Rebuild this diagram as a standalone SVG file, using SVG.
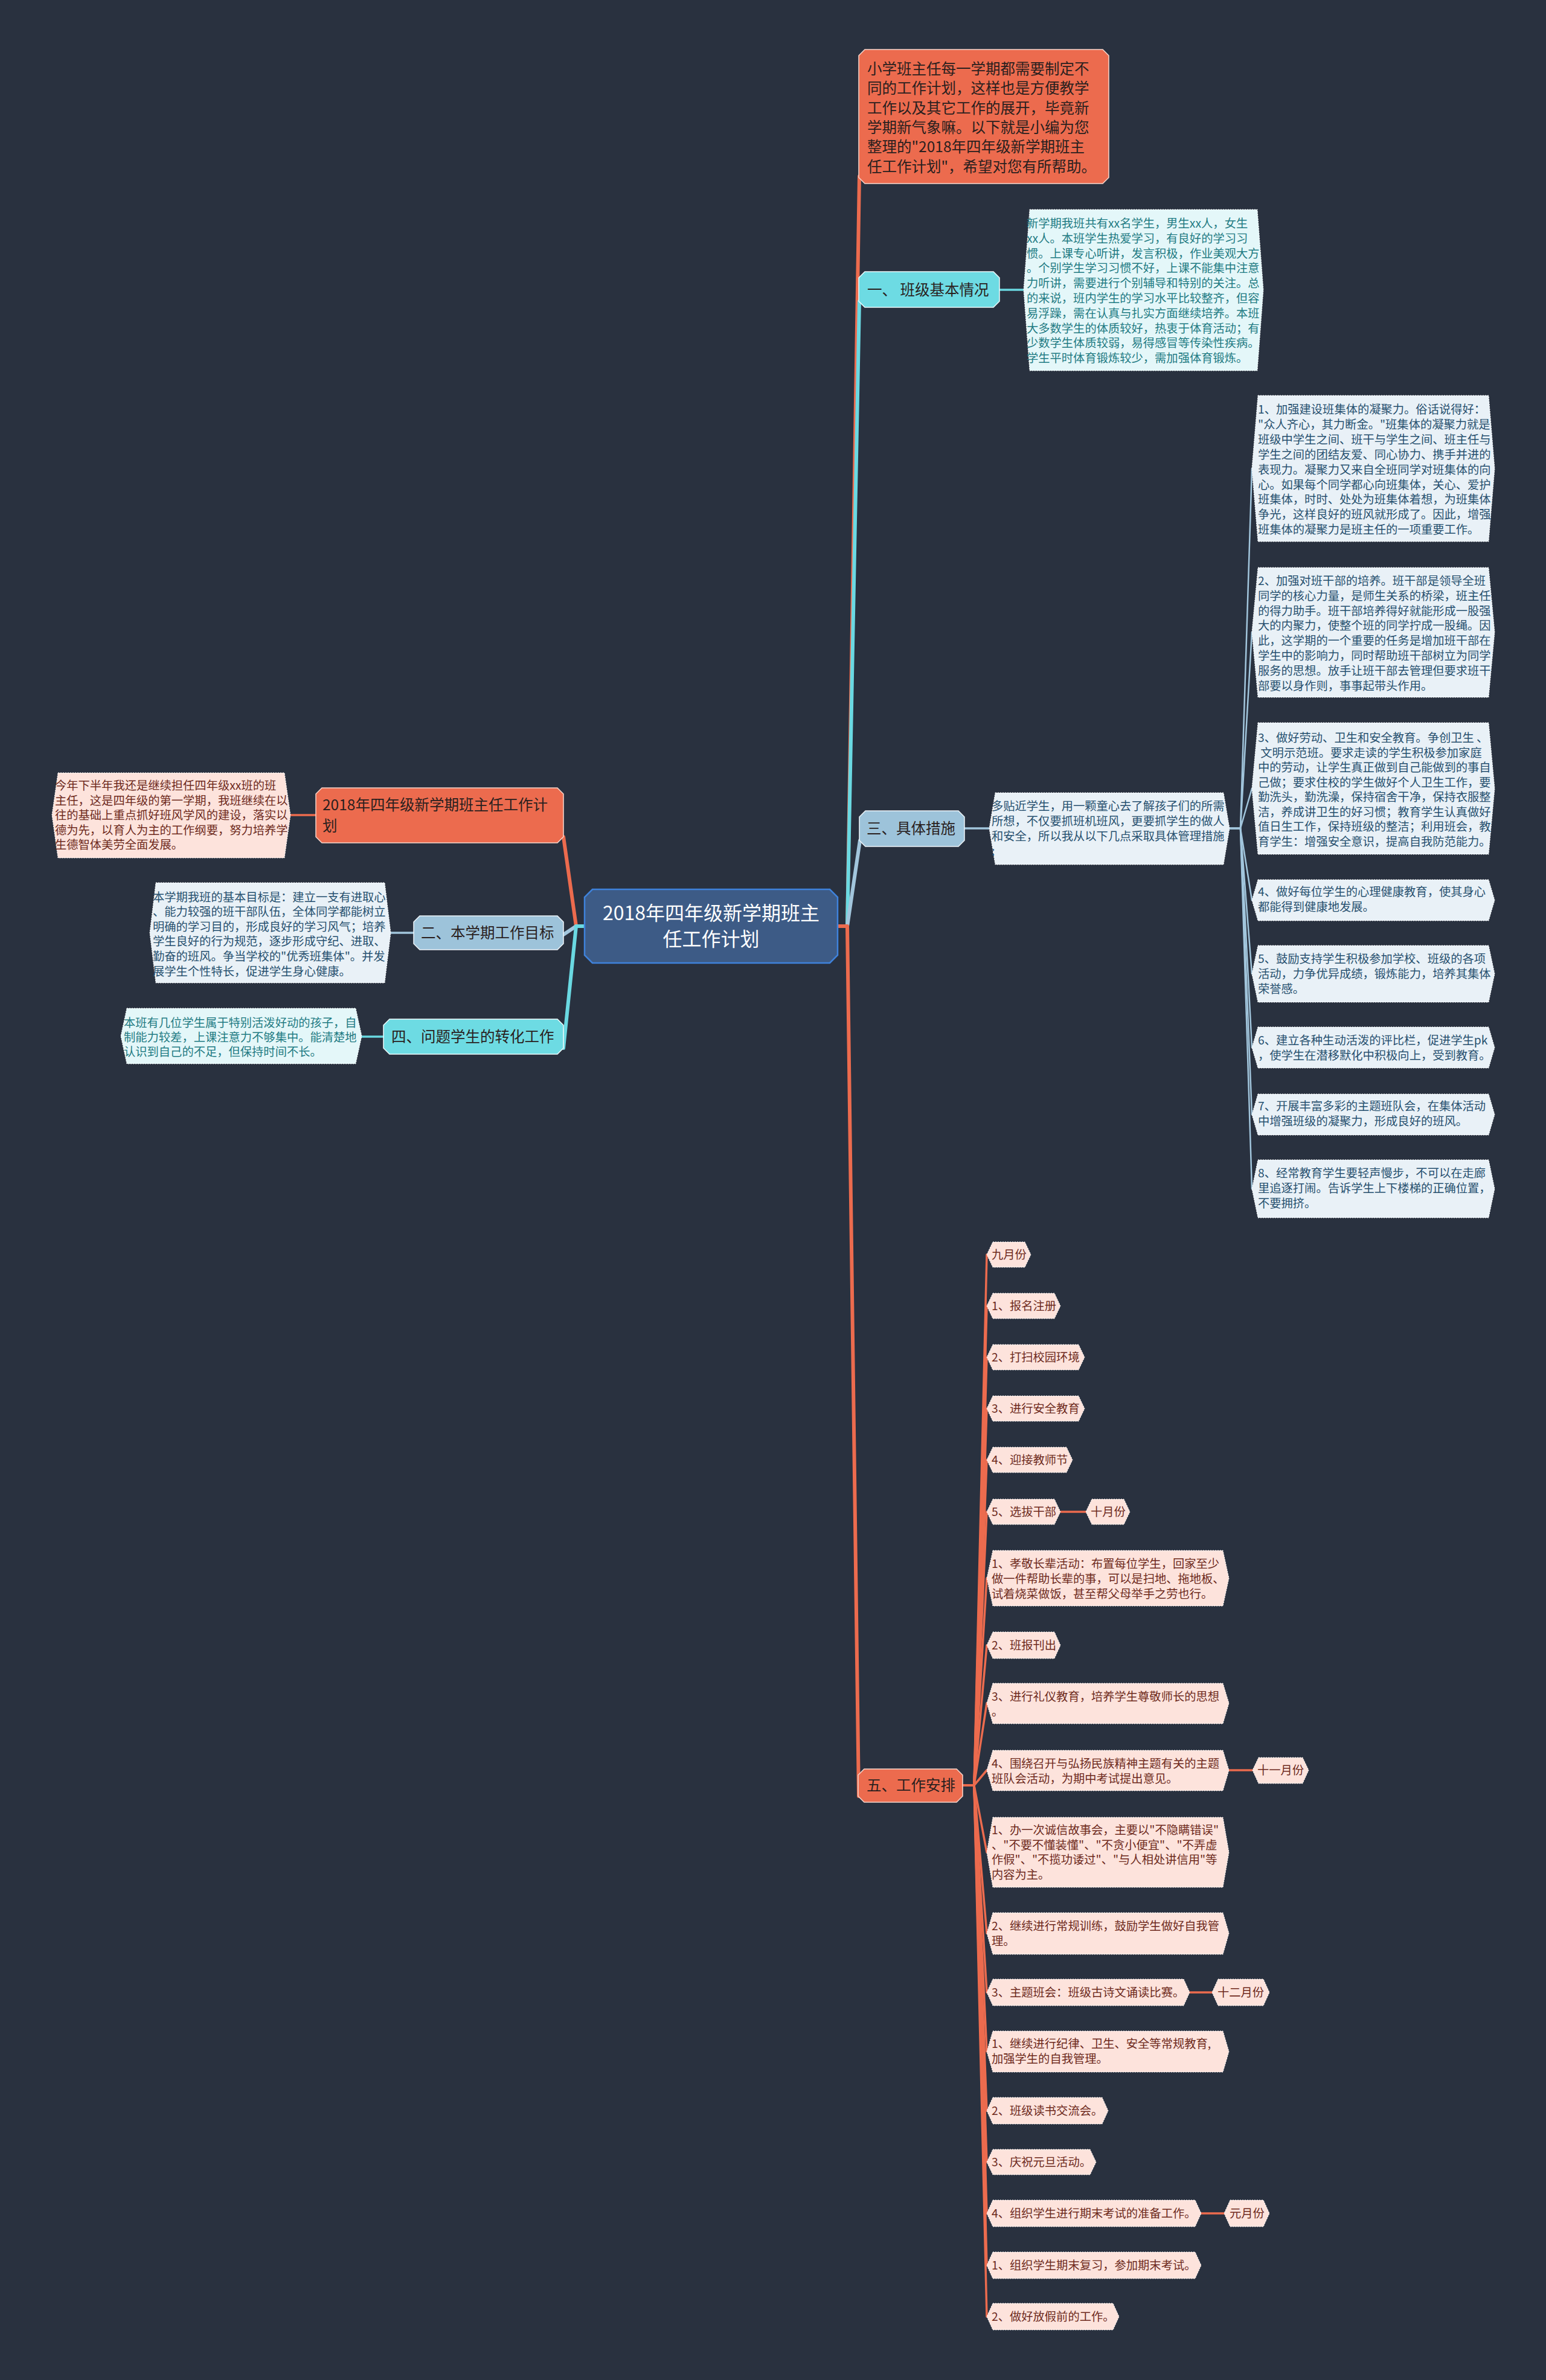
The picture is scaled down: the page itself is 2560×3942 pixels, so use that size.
<svg xmlns="http://www.w3.org/2000/svg" width="2560" height="3942" viewBox="0 0 2560 3942">
<style>
text{font-family:"Noto Sans CJK SC","Noto Sans",sans-serif}
.c-or{stroke:#ec6b4e;fill:none;stroke-linejoin:round;stroke-linecap:round}
.c-cy{stroke:#6ad9e2;fill:none;stroke-linejoin:round;stroke-linecap:round}
.c-bl{stroke:#a2c6dd;fill:none;stroke-linejoin:round;stroke-linecap:round}
.main{stroke-width:6}
.sub{stroke-width:3.5}
.thin{stroke-width:2.5}
.n-or{fill:#ec6b4e;stroke:#f7d6cc;stroke-width:1.5}
.n-cy{fill:#6ddbe3;stroke:#eefcfd;stroke-width:1.5}
.n-bl{fill:#9dc3da;stroke:#eef5fa;stroke-width:1.5}
.n-ctr{fill:#3d5b86;stroke:#3f82db;stroke-width:2.5}
.d-pk{fill:#fde3dc;stroke:#ffffff;stroke-width:1;stroke-dasharray:2 2}
.d-cy{fill:#e4f7f9;stroke:#ffffff;stroke-width:1;stroke-dasharray:2 2}
.d-bl{fill:#e9f1f7;stroke:#ffffff;stroke-width:1;stroke-dasharray:2 2}
.t-node{font-size:24.5px;fill:#2a1f1e}
.t-ctr{font-size:32px;fill:#ffffff}
.t-pk{font-size:19.3px;fill:#6e2a1c}
.t-cy{font-size:19.3px;fill:#1f7b83}
.t-bl{font-size:19.3px;fill:#27506f}
</style>
<rect x="0" y="0" width="2560" height="3942" fill="#29313f"/>

<g id="connectors">
  <!-- center right -->
  <path class="c-or main" d="M1387,1534 H1403 L1423,292"/>
  <path class="c-cy main" d="M1387,1534 H1403 L1423,499"/>
  <path class="c-bl main" d="M1387,1534 H1403 L1424,1392"/>
  <path class="c-or main" d="M1387,1534 H1403 L1422,2975"/>
  <!-- center left -->
  <path class="c-or main" d="M968,1534 H954 L933,1386"/>
  <path class="c-bl main" d="M968,1534 H954 L933,1548"/>
  <path class="c-cy main" d="M968,1534 H954 L933,1736"/>
  <!-- node to desc -->
  <path class="c-cy sub" d="M1655,480 H1695"/>
  <path class="c-bl sub" d="M1597,1372 H1638"/>
  <path class="c-or sub" d="M523,1350 H481"/>
  <path class="c-bl sub" d="M685,1545 H647"/>
  <path class="c-cy sub" d="M635,1717 H599"/>
  <!-- measures fan -->
  <g class="c-bl thin">
    <path d="M2036,1372 H2054 L2073,776"/>
    <path d="M2036,1372 H2054 L2073,1047"/>
    <path d="M2036,1372 H2054 L2073,1306"/>
    <path d="M2036,1372 H2054 L2073,1491"/>
    <path d="M2036,1372 H2054 L2073,1613"/>
    <path d="M2036,1372 H2054 L2073,1735"/>
    <path d="M2036,1372 H2054 L2073,1846"/>
    <path d="M2036,1372 H2054 L2073,1969"/>
  </g>
  <!-- schedule fan -->
  <g class="c-or sub">
    <path d="M1594,2957 H1613 L1634,2078"/>
    <path d="M1594,2957 H1613 L1634,2163"/>
    <path d="M1594,2957 H1613 L1634,2248"/>
    <path d="M1594,2957 H1613 L1634,2333"/>
    <path d="M1594,2957 H1613 L1634,2418"/>
    <path d="M1594,2957 H1613 L1634,2504"/>
    <path d="M1594,2957 H1613 L1634,2614"/>
    <path d="M1594,2957 H1613 L1634,2725"/>
    <path d="M1594,2957 H1613 L1634,2821"/>
    <path d="M1594,2957 H1613 L1634,2932"/>
    <path d="M1594,2957 H1613 L1634,3068"/>
    <path d="M1594,2957 H1613 L1634,3202"/>
    <path d="M1594,2957 H1613 L1634,3300"/>
    <path d="M1594,2957 H1613 L1634,3398"/>
    <path d="M1594,2957 H1613 L1634,3496"/>
    <path d="M1594,2957 H1613 L1634,3581"/>
    <path d="M1594,2957 H1613 L1634,3666"/>
    <path d="M1594,2957 H1613 L1634,3752"/>
    <path d="M1594,2957 H1613 L1634,3837"/>
    <path d="M1756,2504 H1798"/>
    <path d="M2035,2932 H2074"/>
    <path d="M1970,3300 H2007"/>
    <path d="M1989,3666 H2027"/>
  </g>
</g>

<g id="center">
  <path class="n-ctr" d="M981,1473 H1374 L1387,1486 V1582 L1374,1595 H981 L968,1582 V1486 Z"/>
  <text class="t-ctr" text-anchor="middle"><tspan x="1177.5" y="1523.5">2018年四年级新学期班主</tspan><tspan x="1177.5" y="1566.5">任工作计划</tspan></text>
</g>

<g id="intro">
  <path class="n-or" d="M1432,82 H1826 L1836,92 V294 L1826,304 H1432 L1422,294 V92 Z"/>
  <text class="t-node"><tspan x="1436" y="123">小学班主任每一学期都需要制定不</tspan><tspan x="1436" y="155.3">同的工作计划，这样也是方便教学</tspan><tspan x="1436" y="187.6">工作以及其它工作的展开，毕竟新</tspan><tspan x="1436" y="219.9">学期新气象嘛。以下就是小编为您</tspan><tspan x="1436" y="252.2">整理的"2018年四年级新学期班主</tspan><tspan x="1436" y="284.5">任工作计划"，希望对您有所帮助。</tspan></text>
</g>

<g id="basic">
  <path class="n-cy" d="M1432,450 H1645 L1655,460 V499 L1645,509 H1432 L1422,499 V460 Z"/>
  <text class="t-node" x="1436" y="489">一、 班级基本情况</text>
</g>
<g id="basic-desc">
  <path class="d-cy" d="M1705,347 H2082 L2092,480 L2082,614 H1705 L1695,480 Z"/>
  <text class="t-cy"><tspan x="1700" y="377">新学期我班共有xx名学生，男生xx人，女生</tspan><tspan x="1700" y="401.8">xx人。本班学生热爱学习，有良好的学习习</tspan><tspan x="1700" y="426.6">惯。上课专心听讲，发言积极，作业美观大方</tspan><tspan x="1700" y="451.4">。个别学生学习习惯不好，上课不能集中注意</tspan><tspan x="1700" y="476.2">力听讲，需要进行个别辅导和特别的关注。总</tspan><tspan x="1700" y="501">的来说，班内学生的学习水平比较整齐，但容</tspan><tspan x="1700" y="525.8">易浮躁，需在认真与扎实方面继续培养。本班</tspan><tspan x="1700" y="550.6">大多数学生的体质较好，热衷于体育活动；有</tspan><tspan x="1700" y="575.4">少数学生体质较弱，易得感冒等传染性疾病。</tspan><tspan x="1700" y="600.2">学生平时体育锻炼较少，需加强体育锻炼。</tspan></text>
</g>

<g id="measures">
  <path class="n-bl" d="M1433,1343 H1587 L1597,1353 V1392 L1587,1402 H1433 L1423,1392 V1353 Z"/>
  <text class="t-node" x="1435" y="1381">三、具体措施</text>
</g>
<g id="measures-desc">
  <path class="d-bl" d="M1648,1313 H2026 L2036,1372 L2026,1432 H1648 L1638,1372 Z"/>
  <text class="t-bl"><tspan x="1642" y="1342">多贴近学生，用一颗童心去了解孩子们的所需</tspan><tspan x="1642" y="1367">所想，不仅要抓班机班风，更要抓学生的做人</tspan><tspan x="1642" y="1392">和安全，所以我从以下几点采取具体管理措施</tspan><tspan x="1642" y="1417">:</tspan></text>
</g>

<g id="m1">
  <path class="d-bl" d="M2083,655 H2465 L2475,776 L2465,897 H2083 L2073,776 Z"/>
  <text class="t-bl"><tspan x="2083" y="685">1、加强建设班集体的凝聚力。俗话说得好：</tspan><tspan x="2083" y="709.9">"众人齐心，其力断金。"班集体的凝聚力就是</tspan><tspan x="2083" y="734.8">班级中学生之间、班干与学生之间、班主任与</tspan><tspan x="2083" y="759.7">学生之间的团结友爱、同心协力、携手并进的</tspan><tspan x="2083" y="784.6">表现力。凝聚力又来自全班同学对班集体的向</tspan><tspan x="2083" y="809.5">心。如果每个同学都心向班集体，关心、爱护</tspan><tspan x="2083" y="834.4">班集体，时时、处处为班集体着想，为班集体</tspan><tspan x="2083" y="859.3">争光，这样良好的班风就形成了。因此，增强</tspan><tspan x="2083" y="884.2">班集体的凝聚力是班主任的一项重要工作。</tspan></text>
</g>
<g id="m2">
  <path class="d-bl" d="M2083,940 H2465 L2475,1047 L2465,1155 H2083 L2073,1047 Z"/>
  <text class="t-bl"><tspan x="2083" y="969">2、加强对班干部的培养。班干部是领导全班</tspan><tspan x="2083" y="993.8">同学的核心力量，是师生关系的桥梁，班主任</tspan><tspan x="2083" y="1018.6">的得力助手。班干部培养得好就能形成一股强</tspan><tspan x="2083" y="1043.4">大的内聚力，使整个班的同学拧成一股绳。因</tspan><tspan x="2083" y="1068.2">此，这学期的一个重要的任务是增加班干部在</tspan><tspan x="2083" y="1093">学生中的影响力，同时帮助班干部树立为同学</tspan><tspan x="2083" y="1117.8">服务的思想。放手让班干部去管理但要求班干</tspan><tspan x="2083" y="1142.6">部要以身作则，事事起带头作用。</tspan></text>
</g>
<g id="m3">
  <path class="d-bl" d="M2083,1197 H2465 L2475,1306 L2465,1415 H2083 L2073,1306 Z"/>
  <text class="t-bl" xml:space="preserve"><tspan x="2083" y="1229">3、做好劳动、卫生和安全教育。争创卫生 、</tspan><tspan x="2083" y="1253.5"> 文明示范班。要求走读的学生积极参加家庭</tspan><tspan x="2083" y="1278">中的劳动，让学生真正做到自己能做到的事自</tspan><tspan x="2083" y="1302.5">己做；要求住校的学生做好个人卫生工作，要</tspan><tspan x="2083" y="1327">勤洗头，勤洗澡，保持宿舍干净，保持衣服整</tspan><tspan x="2083" y="1351.5">洁，养成讲卫生的好习惯；教育学生认真做好</tspan><tspan x="2083" y="1376">值日生工作，保持班级的整洁；利用班会，教</tspan><tspan x="2083" y="1400.5">育学生：增强安全意识，提高自我防范能力。</tspan></text>
</g>
<g id="m4">
  <path class="d-bl" d="M2083,1457 H2465 L2475,1491 L2465,1525 H2083 L2073,1491 Z"/>
  <text class="t-bl"><tspan x="2083" y="1484">4、做好每位学生的心理健康教育，使其身心</tspan><tspan x="2083" y="1509">都能得到健康地发展。</tspan></text>
</g>
<g id="m5">
  <path class="d-bl" d="M2083,1566 H2465 L2475,1613 L2465,1660 H2083 L2073,1613 Z"/>
  <text class="t-bl"><tspan x="2083" y="1595">5、鼓励支持学生积极参加学校、班级的各项</tspan><tspan x="2083" y="1620">活动，力争优异成绩，锻炼能力，培养其集体</tspan><tspan x="2083" y="1645">荣誉感。</tspan></text>
</g>
<g id="m6">
  <path class="d-bl" d="M2083,1701 H2465 L2475,1735 L2465,1769 H2083 L2073,1735 Z"/>
  <text class="t-bl"><tspan x="2083" y="1730">6、建立各种生动活泼的评比栏，促进学生pk</tspan><tspan x="2083" y="1755">，使学生在潜移默化中积极向上，受到教育。</tspan></text>
</g>
<g id="m7">
  <path class="d-bl" d="M2083,1812 H2465 L2475,1846 L2465,1880 H2083 L2073,1846 Z"/>
  <text class="t-bl"><tspan x="2083" y="1839">7、开展丰富多彩的主题班队会，在集体活动</tspan><tspan x="2083" y="1864">中增强班级的凝聚力，形成良好的班风。</tspan></text>
</g>
<g id="m8">
  <path class="d-bl" d="M2083,1921 H2465 L2475,1969 L2465,2017 H2083 L2073,1969 Z"/>
  <text class="t-bl"><tspan x="2083" y="1950">8、经常教育学生要轻声慢步，不可以在走廊</tspan><tspan x="2083" y="1975">里追逐打闹。告诉学生上下楼梯的正确位置，</tspan><tspan x="2083" y="2000">不要拥挤。</tspan></text>
</g>

<g id="plan">
  <path class="n-or" d="M533,1305 H923 L933,1315 V1386 L923,1396 H533 L523,1386 V1315 Z"/>
  <text class="t-node"><tspan x="534" y="1342">2018年四年级新学期班主任工作计</tspan><tspan x="534" y="1377">划</tspan></text>
</g>
<g id="plan-desc">
  <path class="d-pk" d="M96,1280 H471 L481,1350 L471,1421 H96 L86,1350 Z"/>
  <text class="t-pk"><tspan x="91" y="1308">今年下半年我还是继续担任四年级xx班的班</tspan><tspan x="91" y="1332.6">主任，这是四年级的第一学期，我班继续在以</tspan><tspan x="91" y="1357.2">往的基础上重点抓好班风学风的建设，落实以</tspan><tspan x="91" y="1381.8">德为先，以育人为主的工作纲要，努力培养学</tspan><tspan x="91" y="1406.4">生德智体美劳全面发展。</tspan></text>
</g>

<g id="goal">
  <path class="n-bl" d="M695,1517 H923 L933,1527 V1563 L923,1573 H695 L685,1563 V1527 Z"/>
  <text class="t-node" x="697" y="1554">二、本学期工作目标</text>
</g>
<g id="goal-desc">
  <path class="d-bl" d="M258,1462 H637 L647,1545 L637,1628 H258 L248,1545 Z"/>
  <text class="t-bl"><tspan x="253" y="1492.5">本学期我班的基本目标是：建立一支有进取心</tspan><tspan x="253" y="1517.1">、能力较强的班干部队伍，全体同学都能树立</tspan><tspan x="253" y="1541.7">明确的学习目的，形成良好的学习风气；培养</tspan><tspan x="253" y="1566.3">学生良好的行为规范，逐步形成守纪、进取、</tspan><tspan x="253" y="1590.9">勤奋的班风。争当学校的"优秀班集体"。并发</tspan><tspan x="253" y="1615.5">展学生个性特长，促进学生身心健康。</tspan></text>
</g>

<g id="problem">
  <path class="n-cy" d="M645,1688 H923 L933,1698 V1736 L923,1746 H645 L635,1736 V1698 Z"/>
  <text class="t-node" x="648" y="1726">四、问题学生的转化工作</text>
</g>
<g id="problem-desc">
  <path class="d-cy" d="M210,1670 H589 L599,1716 L589,1762 H210 L200,1716 Z"/>
  <text class="t-cy"><tspan x="205" y="1701">本班有几位学生属于特别活泼好动的孩子，自</tspan><tspan x="205" y="1725">制能力较差，上课注意力不够集中。能清楚地</tspan><tspan x="205" y="1749">认识到自己的不足，但保持时间不长。</tspan></text>
</g>

<g id="schedule">
  <path class="n-or" d="M1431,2930 H1584 L1594,2940 V2975 L1584,2985 H1431 L1421,2975 V2940 Z"/>
  <text class="t-node" x="1435" y="2966">五、工作安排</text>
</g>

<g id="s01"><path class="d-pk" d="M1644,2057 H1697 L1707,2078 L1697,2099 H1644 L1634,2078 Z"/><text class="t-pk" x="1642" y="2085">九月份</text></g>
<g id="s02"><path class="d-pk" d="M1644,2142 H1746 L1756,2163 L1746,2184 H1644 L1634,2163 Z"/><text class="t-pk" x="1642" y="2170">1、报名注册</text></g>
<g id="s03"><path class="d-pk" d="M1644,2227 H1786 L1796,2248 L1786,2269 H1644 L1634,2248 Z"/><text class="t-pk" x="1642" y="2255">2、打扫校园环境</text></g>
<g id="s04"><path class="d-pk" d="M1644,2312 H1786 L1796,2333 L1786,2354 H1644 L1634,2333 Z"/><text class="t-pk" x="1642" y="2340">3、进行安全教育</text></g>
<g id="s05"><path class="d-pk" d="M1644,2397 H1766 L1776,2418 L1766,2439 H1644 L1634,2418 Z"/><text class="t-pk" x="1642" y="2425">4、迎接教师节</text></g>
<g id="s06"><path class="d-pk" d="M1644,2483 H1746 L1756,2504 L1746,2525 H1644 L1634,2504 Z"/><text class="t-pk" x="1642" y="2511">5、选拔干部</text></g>
<g id="s06m"><path class="d-pk" d="M1808,2483 H1861 L1871,2504 L1861,2525 H1808 L1798,2504 Z"/><text class="t-pk" x="1806" y="2511">十月份</text></g>
<g id="s07"><path class="d-pk" d="M1644,2568 H2025 L2035,2614 L2025,2660 H1644 L1634,2614 Z"/><text class="t-pk"><tspan x="1642" y="2597">1、孝敬长辈活动：布置每位学生，回家至少</tspan><tspan x="1642" y="2622">做一件帮助长辈的事，可以是扫地、拖地板、</tspan><tspan x="1642" y="2647">试着烧菜做饭，甚至帮父母举手之劳也行。</tspan></text></g>
<g id="s08"><path class="d-pk" d="M1644,2703 H1746 L1756,2725 L1746,2747 H1644 L1634,2725 Z"/><text class="t-pk" x="1642" y="2732">2、班报刊出</text></g>
<g id="s09"><path class="d-pk" d="M1644,2788 H2025 L2035,2821 L2025,2855 H1644 L1634,2821 Z"/><text class="t-pk"><tspan x="1642" y="2817">3、进行礼仪教育，培养学生尊敬师长的思想</tspan><tspan x="1642" y="2842">。</tspan></text></g>
<g id="s10"><path class="d-pk" d="M1644,2899 H2025 L2035,2932 L2025,2966 H1644 L1634,2932 Z"/><text class="t-pk"><tspan x="1642" y="2928">4、围绕召开与弘扬民族精神主题有关的主题</tspan><tspan x="1642" y="2953">班队会活动，为期中考试提出意见。</tspan></text></g>
<g id="s10m"><path class="d-pk" d="M2084,2911 H2157 L2167,2932 L2157,2954 H2084 L2074,2932 Z"/><text class="t-pk" x="2082" y="2939">十一月份</text></g>
<g id="s11"><path class="d-pk" d="M1644,3010 H2025 L2035,3068 L2025,3126 H1644 L1634,3068 Z"/><text class="t-pk"><tspan x="1642" y="3038">1、办一次诚信故事会，主要以"不隐瞒错误"</tspan><tspan x="1642" y="3062.5">、"不要不懂装懂"、"不贪小便宜"、"不弄虚</tspan><tspan x="1642" y="3087">作假"、"不揽功诿过"、"与人相处讲信用"等</tspan><tspan x="1642" y="3111.5">内容为主。</tspan></text></g>
<g id="s12"><path class="d-pk" d="M1644,3168 H2025 L2035,3202 L2025,3237 H1644 L1634,3202 Z"/><text class="t-pk"><tspan x="1642" y="3197">2、继续进行常规训练，鼓励学生做好自我管</tspan><tspan x="1642" y="3222">理。</tspan></text></g>
<g id="s13"><path class="d-pk" d="M1644,3278 H1960 L1970,3300 L1960,3322 H1644 L1634,3300 Z"/><text class="t-pk" x="1642" y="3307">3、主题班会：班级古诗文诵读比赛。</text></g>
<g id="s13m"><path class="d-pk" d="M2017,3278 H2092 L2102,3300 L2092,3322 H2017 L2007,3300 Z"/><text class="t-pk" x="2016" y="3307">十二月份</text></g>
<g id="s14"><path class="d-pk" d="M1644,3364 H2025 L2035,3398 L2025,3432 H1644 L1634,3398 Z"/><text class="t-pk"><tspan x="1642" y="3392">1、继续进行纪律、卫生、安全等常规教育,</tspan><tspan x="1642" y="3417">加强学生的自我管理。</tspan></text></g>
<g id="s15"><path class="d-pk" d="M1644,3474 H1825 L1835,3496 L1825,3518 H1644 L1634,3496 Z"/><text class="t-pk" x="1642" y="3503">2、班级读书交流会。</text></g>
<g id="s16"><path class="d-pk" d="M1644,3560 H1805 L1815,3581 L1805,3602 H1644 L1634,3581 Z"/><text class="t-pk" x="1642" y="3588">3、庆祝元旦活动。</text></g>
<g id="s17"><path class="d-pk" d="M1644,3644 H1979 L1989,3666 L1979,3688 H1644 L1634,3666 Z"/><text class="t-pk" x="1642" y="3673">4、组织学生进行期末考试的准备工作。</text></g>
<g id="s17m"><path class="d-pk" d="M2037,3644 H2092 L2102,3666 L2092,3688 H2037 L2027,3666 Z"/><text class="t-pk" x="2036" y="3673">元月份</text></g>
<g id="s18"><path class="d-pk" d="M1644,3730 H1979 L1989,3752 L1979,3774 H1644 L1634,3752 Z"/><text class="t-pk" x="1642" y="3759">1、组织学生期末复习，参加期末考试。</text></g>
<g id="s19"><path class="d-pk" d="M1644,3815 H1843 L1853,3837 L1843,3859 H1644 L1634,3837 Z"/><text class="t-pk" x="1642" y="3844">2、做好放假前的工作。</text></g>
</svg>
